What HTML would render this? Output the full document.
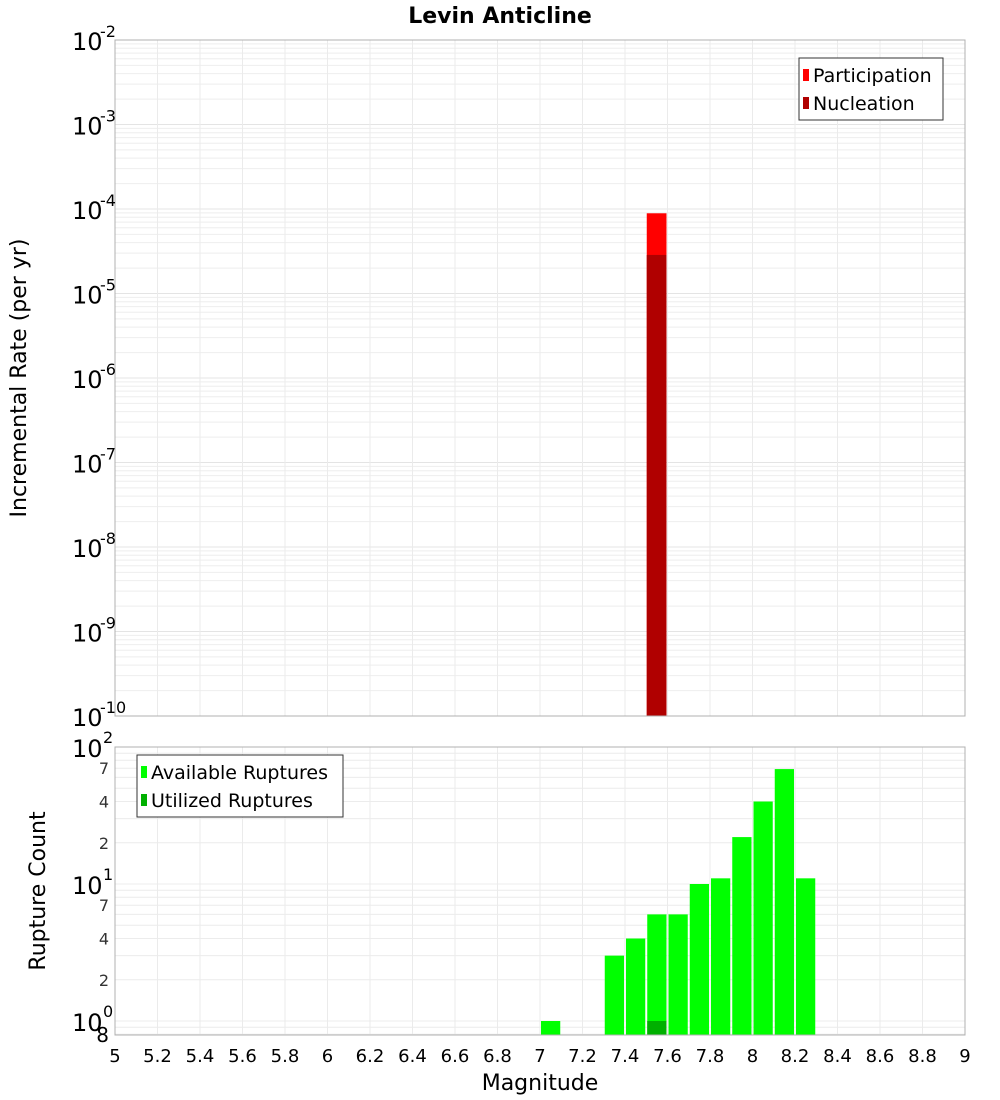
<!DOCTYPE html>
<html><head><meta charset="utf-8"><style>
body{margin:0;background:#fff;}
svg{display:block;font-family:"DejaVu Sans","Liberation Sans",sans-serif;}
</style></head><body>
<svg id="c" width="1000" height="1100" xmlns="http://www.w3.org/2000/svg"></svg>
<script>
const partMags=[7.5];
const partVals=[8.9e-5];
const nuclMags=[7.5];
const nuclVals=[2.86e-5];
const availMags=[7.0,7.3,7.4,7.5,7.6,7.7,7.8,7.9,8.0,8.1,8.2];
const availVals=[1,3,4,6,6,10,11,22,40,69,11];
const usedMags=[7.5];
const usedVals=[1];
const xTicks=[5,5.2,5.4,5.6,5.8,6,6.2,6.4,6.6,6.8,7,7.2,7.4,7.6,7.8,8,8.2,8.4,8.6,8.8,9];
const topExps=[-10,-9,-8,-7,-6,-5,-4,-3,-2];
const botMinor=[2,4,7,20,40,70];

const NS="http://www.w3.org/2000/svg";
const svg=document.getElementById('c');
function el(t,a,p){const e=document.createElementNS(NS,t);for(const k in a)e.setAttribute(k,a[k]);(p||svg).appendChild(e);return e;}
const X0=115,X1=965;
const x=m=>X0+(m-5)/4*(X1-X0);
const T0=40,T1=716;
const yT=v=>T0+(-2-Math.log10(v))/8*(T1-T0);
const B0=747,B1=1035,Bdec=137,Bone=1021;
const yB=v=>Bone-Math.log10(v)*Bdec;

// frames backgrounds
// top grid
for(let e=-10;e<-2;e++){for(let k=1;k<10;k++){const y=yT(k*Math.pow(10,e));
 const l=el('line',{x1:X0,x2:X1,y1:y,y2:y,stroke:k==1?'#e4e4e4':'#eeeeee','stroke-width':1});
 }}
for(const t of xTicks){const l=el('line',{x1:x(t),x2:x(t),y1:T0,y2:T1,stroke:'#ebebeb'});}
// bottom grid
for(let e=-1;e<2;e++){for(let k=1;k<10;k++){const v=k*Math.pow(10,e);const y=yB(v);if(y<B0||y>B1)continue;
 const l=el('line',{x1:X0,x2:X1,y1:y,y2:y,stroke:'#ececec'});}}
for(const t of xTicks){const l=el('line',{x1:x(t),x2:x(t),y1:B0,y2:B1,stroke:'#ebebeb'});}

// top bars
partMags.forEach((m,i)=>{const r=el('rect',{x:x(m)+0.5,y:yT(partVals[i]),width:x(m+0.1)-x(m)-1.5,height:T1-yT(partVals[i]),fill:'#ff0000'});
 });
nuclMags.forEach((m,i)=>{const r=el('rect',{x:x(m)+0.5,y:yT(nuclVals[i]),width:x(m+0.1)-x(m)-1.5,height:T1-yT(nuclVals[i]),fill:'#b00000'});
 });
// bottom bars
availMags.forEach((m,i)=>{const r=el('rect',{x:x(m)+1,y:yB(availVals[i]),width:x(m+0.1)-x(m)-2,height:B1-yB(availVals[i]),fill:'#00ff00'});
 });
usedMags.forEach((m,i)=>{const r=el('rect',{x:x(m)+1,y:yB(usedVals[i]),width:x(m+0.1)-x(m)-2,height:B1-yB(usedVals[i]),fill:'#00b000'});
 });

// frames
let f=el('rect',{x:X0,y:T0,width:X1-X0,height:T1-T0,fill:'none',stroke:'#b0b0b0'});
f=el('rect',{x:X0,y:B0,width:X1-X0,height:B1-B0,fill:'none',stroke:'#b0b0b0'});

// top y labels
for(const e of topExps){const y=yT(Math.pow(10,e));
 const t=el('text',{x:72,y:y+10,'font-size':24,fill:'#000'});t.textContent='10';
 
 const s=el('text',{x:100,y:y-3,'font-size':16,fill:'#000'});s.textContent=String(e);
 }
// bottom y labels
[[100,'2'],[10,'1'],[1,'0']].forEach(([v,e])=>{const y=yB(v);
 const t=el('text',{x:72,y:y+10,'font-size':24,fill:'#000'});t.textContent='10';
 
 const s=el('text',{x:103,y:y-4,'font-size':16,fill:'#000'});s.textContent=e;
 });
for(const v of botMinor){const y=yB(v);const t=el('text',{x:109,y:y+6,'font-size':16,fill:'#333','text-anchor':'end'});t.textContent=String(v).charAt(0);
 }
{const t=el('text',{x:109,y:1042,'font-size':20,fill:'#000','text-anchor':'end'});t.textContent='8';}
// x labels
for(const m of xTicks){const t=el('text',{x:x(m),y:1062,'font-size':18,'text-anchor':'middle',fill:'#000'});t.textContent=String(m);
 }

// titles
let t=el('text',{x:500,y:23,'font-size':22,'font-weight':'bold','text-anchor':'middle'});t.textContent='Levin Anticline';
t=el('text',{x:540,y:1090,'font-size':22,'text-anchor':'middle'});t.textContent='Magnitude';
t=el('text',{x:0,y:0,'font-size':22,'text-anchor':'middle',transform:'translate(26,378) rotate(-90)'});t.textContent='Incremental Rate (per yr)';
t=el('text',{x:0,y:0,'font-size':22,'text-anchor':'middle',transform:'translate(45,891) rotate(-90)'});t.textContent='Rupture Count';

// legends
function legend(name,lx,ly,w,items){const g=el('g',{});
 el('rect',{x:lx,y:ly,width:w,height:items.length*28+6,fill:'#fff',stroke:'#333'},g);
 items.forEach(([c,l],i)=>{const yy=ly+17+i*28;
  const r=el('rect',{x:lx+4,y:yy-6,width:6,height:12,fill:c},g);
  const tx=el('text',{x:lx+14,y:yy+7,'font-size':19},g);tx.textContent=l;});}
legend('top-legend',799,58,144,[['#ff0000','Participation'],['#b00000','Nucleation']]);
legend('bottom-legend',137,755,206,[['#00ff00','Available Ruptures'],['#00b000','Utilized Ruptures']]);
</script>
</body></html>
